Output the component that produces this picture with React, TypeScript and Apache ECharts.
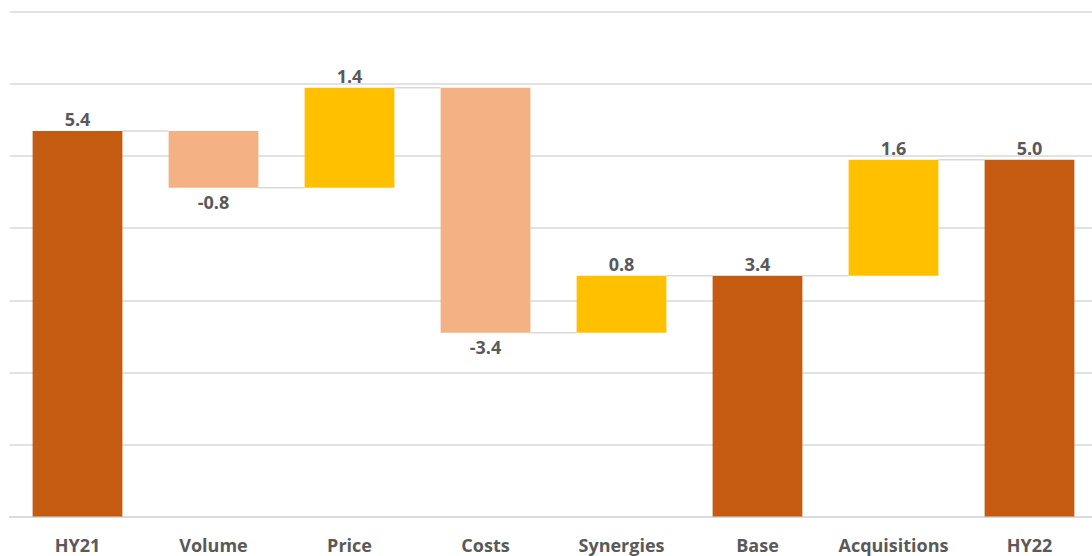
import React, { useEffect, useRef } from "react";
import * as echarts from "echarts";

const categories = ["HY21", "Volume", "Price", "Costs", "Synergies", "Base", "Acquisitions", "HY22"];
const values = [5.35, -0.79, 1.39, -3.4, 0.79, 3.34, 1.61, 4.95];
const isTotal = [true, false, false, false, false, true, false, true];
const valueLabels = ["5.4", "-0.8", "1.4", "-3.4", "0.8", "3.4", "1.6", "5.0"];

const COLOR_TOTAL = "#C55A11";
const COLOR_UP = "#FFC000";
const COLOR_DOWN = "#F4B183";
const TEXT = "#595959";
const GRID = "#D9D9D9";
const FONT = "'Open Sans', Lato, sans-serif";
const BAR_RATIO = 0.66;

export default function App() {
  const ref = useRef<HTMLDivElement>(null);
  useEffect(() => {
    if (!ref.current) return;
    const chart = echarts.init(ref.current, null, { renderer: "svg" });

    let level = 0;
    const baseData: number[] = [];
    const barData: any[] = [];
    const levels: number[] = [];
    values.forEach((v, i) => {
      let lo: number, h: number;
      if (isTotal[i]) {
        lo = 0;
        h = v;
        level = v;
      } else {
        const end = level + v;
        lo = Math.min(level, end);
        h = Math.abs(v);
        level = end;
      }
      levels.push(level);
      baseData.push(lo);
      const color = isTotal[i] ? COLOR_TOTAL : v >= 0 ? COLOR_UP : COLOR_DOWN;
      barData.push({
        value: h,
        itemStyle: { color },
        label: { position: !isTotal[i] && v < 0 ? "bottom" : "top", distance: !isTotal[i] && v < 0 ? 5 : 3 },
      });
    });
    const connectorData = levels.slice(0, -1).map((l, i) => [i, l]);

    chart.setOption({
      animation: false,
      grid: { left: 9.5, right: 2.5, top: 12, bottom: 39.5 },
      xAxis: {
        type: "category",
        data: categories,
        axisLine: { show: true, lineStyle: { color: GRID, width: 1.5 } },
        axisTick: { show: false },
        axisLabel: { color: TEXT, fontSize: 18, fontWeight: "bold", fontFamily: FONT, margin: 19, interval: 0 },
      },
      yAxis: {
        type: "value",
        min: 0,
        max: 7,
        interval: 1,
        axisLabel: { show: false },
        axisLine: { show: false },
        axisTick: { show: false },
        splitLine: { lineStyle: { color: GRID, width: 1.5 } },
      },
      series: [
        {
          type: "bar",
          stack: "w",
          data: baseData,
          itemStyle: { color: "transparent" },
          barWidth: BAR_RATIO * 100 + "%",
          silent: true,
        },
        {
          type: "bar",
          stack: "w",
          data: barData,
          barWidth: BAR_RATIO * 100 + "%",
          label: {
            show: true,
            color: TEXT,
            fontSize: 18,
            fontWeight: "bold",
            fontFamily: FONT,
            formatter: (p: any) => valueLabels[p.dataIndex],
          },
        },
        {
          type: "custom",
          data: connectorData,
          z: 1,
          renderItem: (params: any, api: any) => {
            const i = api.value(0);
            const l = api.value(1);
            const p1 = api.coord([i, l]);
            const p2 = api.coord([i + 1, l]);
            const bw = api.size([1, 0])[0] * BAR_RATIO;
            return {
              type: "line",
              shape: { x1: p1[0] + bw / 2, y1: p1[1], x2: p2[0] - bw / 2, y2: p2[1] },
              style: { stroke: GRID, lineWidth: 1.5 },
            };
          },
        },
      ],
    });
    return () => chart.dispose();
  }, []);

  return (
    <div style={{ position: "absolute", left: 0, top: 0, width: 1092, height: 556, overflow: "hidden", background: "#fff" }}>
      <div ref={ref} style={{ width: 1100, height: 556 }} />
    </div>
  );
}
